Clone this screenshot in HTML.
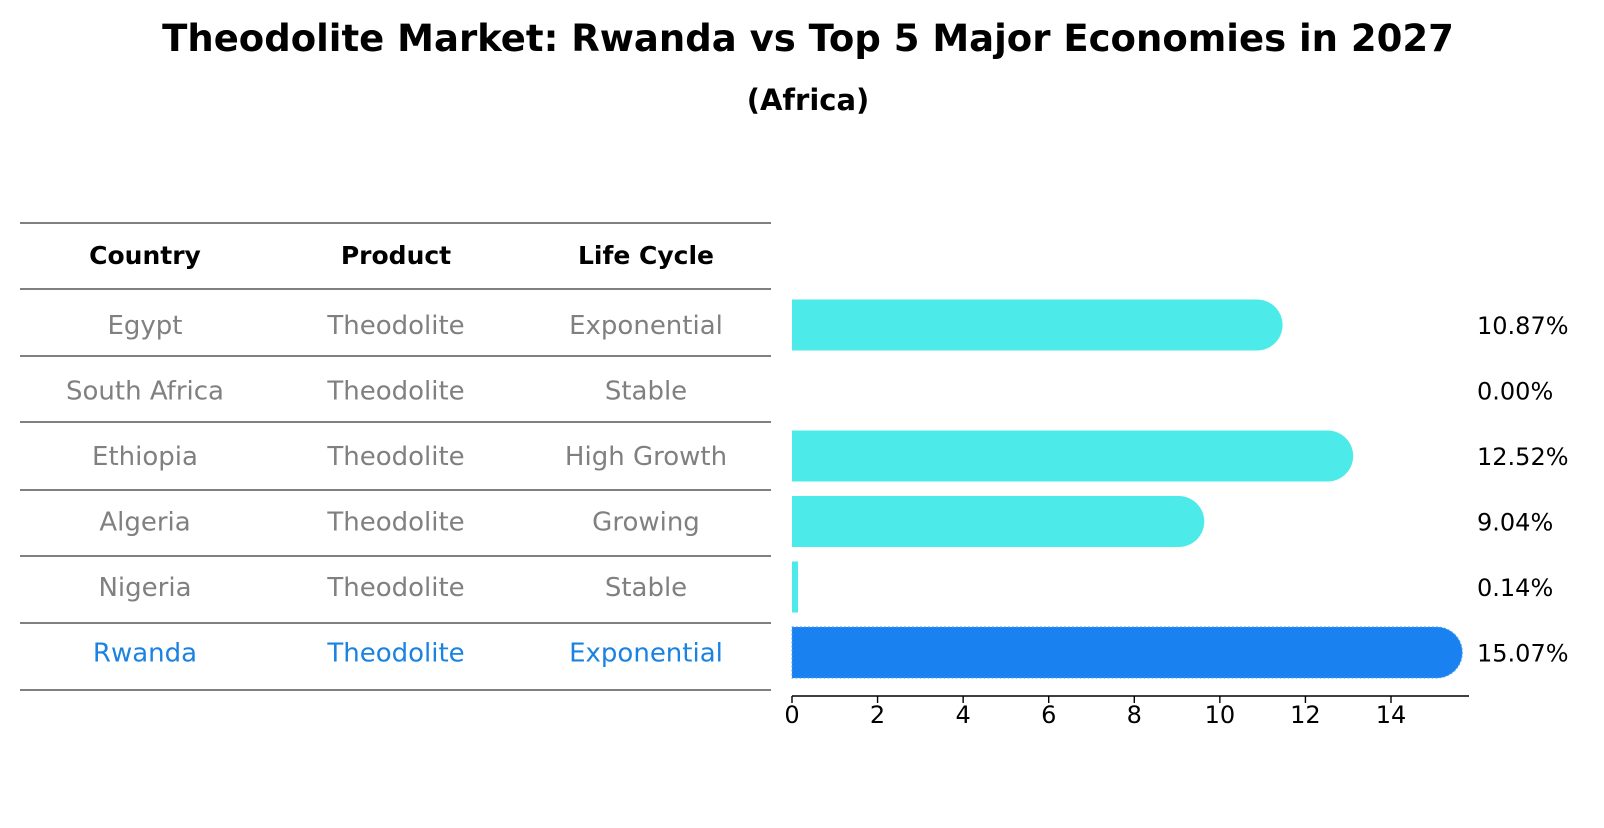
<!DOCTYPE html>
<html><head><meta charset="utf-8"><style>
body{margin:0;background:#fff;font-family:"Liberation Sans","DejaVu Sans",sans-serif;overflow:hidden;}
svg text{font-family:"DejaVu Sans","Liberation Sans",sans-serif;}
</style></head><body>
<svg id="c" width="1604" height="823" xmlns="http://www.w3.org/2000/svg">
<text x="808" y="51" text-anchor="middle" font-size="37" font-weight="bold">Theodolite Market: Rwanda vs Top 5 Major Economies in 2027</text>
<text x="808" y="110" text-anchor="middle" font-size="29" font-weight="bold">(Africa)</text>
<g id="tbl"></g>
<g id="bars"></g>
</svg>
<script>
const countries=["Egypt","South Africa","Ethiopia","Algeria","Nigeria","Rwanda"];
const products=["Theodolite","Theodolite","Theodolite","Theodolite","Theodolite","Theodolite"];
const lifeCycles=["Exponential","Stable","High Growth","Growing","Stable","Exponential"];
const values=[10.87,0.00,12.52,9.04,0.14,15.07];
const ticks=[0,2,4,6,8,10,12,14];
const NS="http://www.w3.org/2000/svg";
const tbl=document.getElementById('tbl');
const bars=document.getElementById('bars');
function mk(tag,attrs,parent,text){const e=document.createElementNS(NS,tag);for(const k in attrs)e.setAttribute(k,attrs[k]);if(text!==undefined)e.textContent=text;parent.appendChild(e);return e;}
const x0=792, unit=(1391-792)/14;
const xs=v=>x0+v*unit;
const rowY=i=>325+i*65.5;
const colX=[145,396,646];
const FS=26;
const lineYs=[223,289,356,422,490,556,623,690];
lineYs.forEach(y=>{const l=mk('line',{x1:20,x2:771,y1:y,y2:y,stroke:'#000','stroke-width':1},tbl);

});
["Country","Product","Life Cycle"].forEach((h,j)=>{const t=mk('text',{x:colX[j],y:264,'text-anchor':'middle','font-size':FS-1,'font-weight':'bold'},tbl,h);

});
countries.forEach((c,i)=>{const last=i===countries.length-1;const col=last?'#1a82e0':'#808080';
[c,products[i],lifeCycles[i]].forEach((s,j)=>{const t=mk('text',{x:colX[j],y:rowY(i)+9,'text-anchor':'middle','font-size':FS,fill:col},tbl,s);

});
const v=values[i];const xe=xs(v);const yc=rowY(i);const h=51,r=25.5;const col2=last?'#1a82f0':'#4deaea';
if(v>0){let d;
if(v>=1){d=`M${x0},${yc-h/2} L${xe},${yc-h/2} A${r},${r} 0 0 1 ${xe},${yc+h/2} L${x0},${yc+h/2} Z`;}
else{d=`M${x0},${yc-h/2} L${xe},${yc-h/2} L${xe},${yc+h/2} L${x0},${yc+h/2} Z`;}
const p=mk('path',{d:d,fill:col2},bars);
if(last){p.setAttribute('stroke','#4aa0f0');p.setAttribute('stroke-dasharray','2,2');}

}
const lt=mk('text',{x:1477,y:yc+9,'font-size':FS-2},bars,v.toFixed(2)+'%');


});
const ax=mk('line',{x1:x0,x2:1469,y1:696,y2:696,stroke:'#000','stroke-width':1.4},bars);


ticks.forEach(t=>{const tl=mk('line',{x1:xs(t),x2:xs(t),y1:696,y2:703,stroke:'#000','stroke-width':1.4},bars);


const tt=mk('text',{x:xs(t),y:723,'text-anchor':'middle','font-size':FS-2},bars,String(t));

});
</script>
</body></html>
